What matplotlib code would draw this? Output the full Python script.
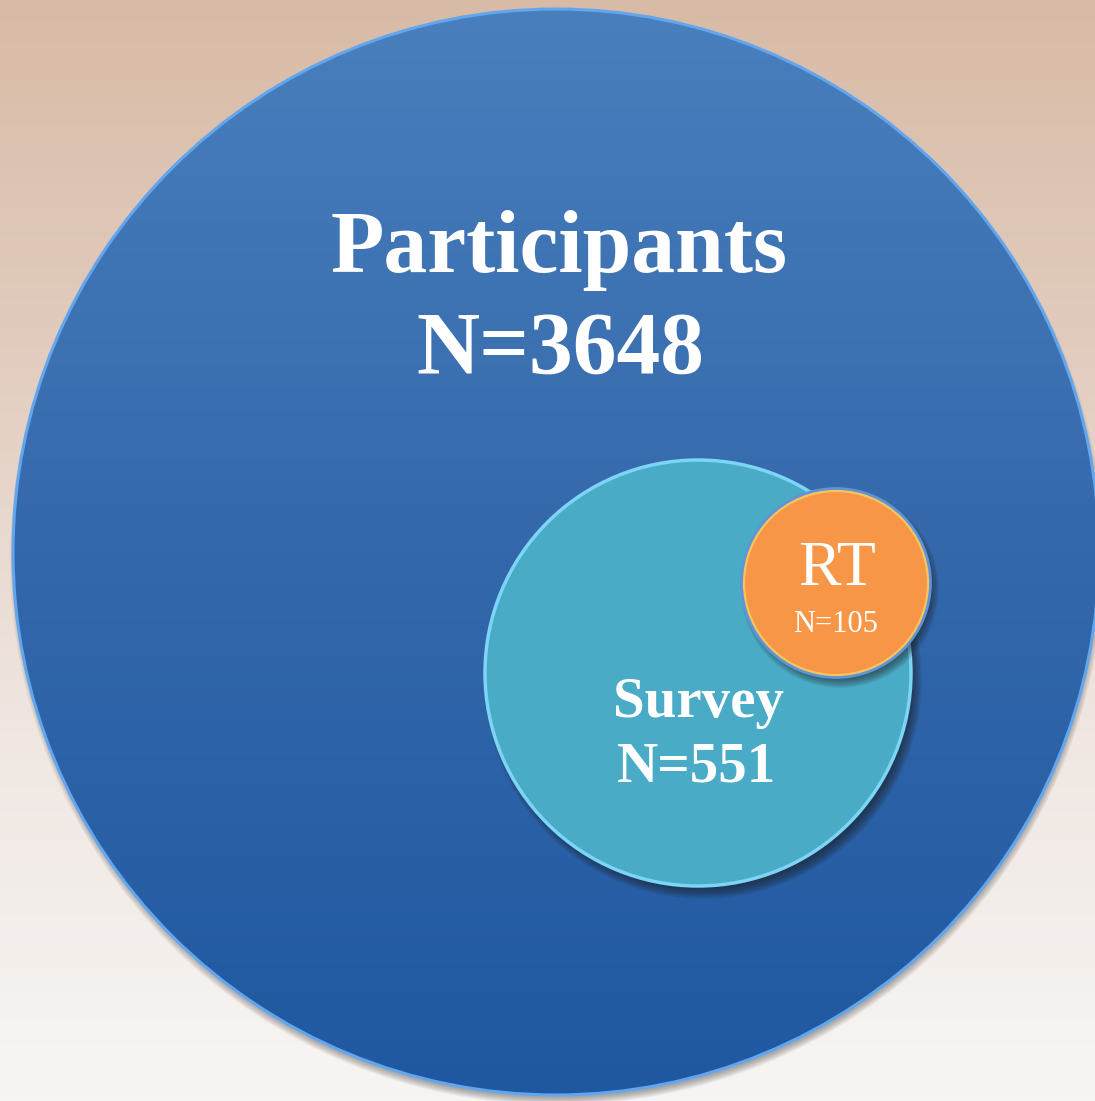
import matplotlib.pyplot as plt
import numpy as np
from matplotlib.patches import Circle
from matplotlib.colors import LinearSegmentedColormap

# groups, biggest first
groups = ["Participants", "Survey", "RT"]
counts = [3648, 551, 105]

# layout in pixels (x, y from top-left) and radii
centers = [(556, 552), (698, 673), (836, 583)]
radii = [543, 213, 93]
fills = ["#3a72b2", "#4aabc6", "#f79646"]
rims = ["#62a6ee", "#7cd4f6", "#5f95d6"]

W, H = 1095, 1101
fig = plt.figure(figsize=(W / 100, H / 100), dpi=100)
ax = fig.add_axes([0, 0, 1, 1])
ax.set_xlim(0, W)
ax.set_ylim(H, 0)
ax.axis("off")

# background: warm tan at the top fading to off-white
bg = LinearSegmentedColormap.from_list("bg", ["#d8bba6", "#e3cdc0", "#f0e7e2", "#f7f5f3"])
grad = np.linspace(0, 1, 256).reshape(-1, 1)
ax.imshow(grad, cmap=bg, extent=(0, W, H, 0), aspect="auto", zorder=0)


def shadow(cx, cy, r, dx, dy, z, strength=0.06, spread=5):
    # fake soft drop shadow with a stack of faint circles
    for k in range(2 * spread):
        ax.add_patch(Circle((cx + dx, cy + dy), r + spread - k, color="#202020",
                            alpha=strength, lw=0, zorder=z))


# big circle
cx, cy = centers[0]
shadow(cx, cy, radii[0], 1, 6, 1, 0.05, 4)
big = Circle((cx, cy), radii[0], facecolor="none", edgecolor="none", zorder=2)
ax.add_patch(big)
blue = LinearSegmentedColormap.from_list("blue", ["#497fbd", "#3468ab", "#1f58a1"])
im = ax.imshow(grad, cmap=blue, extent=(cx - radii[0], cx + radii[0], cy + radii[0], cy - radii[0]),
               aspect="auto", zorder=2)
im.set_clip_path(big)
ax.add_patch(Circle((cx, cy), radii[0], fill=False, edgecolor=rims[0], lw=2.2, zorder=3))

# survey circle
cx, cy = centers[1]
shadow(cx, cy, radii[1], 5, 7, 4, 0.07, 6)
ax.add_patch(Circle((cx, cy), radii[1], facecolor=fills[1], edgecolor=rims[1], lw=2.5, zorder=5))

# RT circle
cx, cy = centers[2]
shadow(cx, cy, radii[2], 4, 6, 6, 0.07, 6)
ax.add_patch(Circle((cx, cy), radii[2], facecolor=fills[2], edgecolor="#f9c45e", lw=3, zorder=7))
ax.add_patch(Circle((cx, cy), radii[2] + 1.5, fill=False, edgecolor=rims[2], lw=2, zorder=7))

serif = "Liberation Serif"
ax.text(559, 272, groups[0], ha="center", va="baseline", color="white",
        fontsize=63, fontweight="bold", family=serif, zorder=10)
ax.text(560, 373, f"N={counts[0]}", ha="center", va="baseline", color="white",
        fontsize=63, fontweight="bold", family=serif, zorder=10)

ax.text(698, 717, groups[1], ha="center", va="baseline", color="white",
        fontsize=41, fontweight="bold", family=serif, zorder=10)
ax.text(697, 782, f"N={counts[1]}", ha="center", va="baseline", color="white",
        fontsize=41, fontweight="bold", family=serif, zorder=10)

ax.text(837, 585, groups[2], ha="center", va="baseline", color="white",
        fontsize=46, family=serif, zorder=10)
ax.text(836, 632, f"N={counts[2]}", ha="center", va="baseline", color="white",
        fontsize=22, family=serif, zorder=10)

fig.savefig("out.png", dpi=100)
